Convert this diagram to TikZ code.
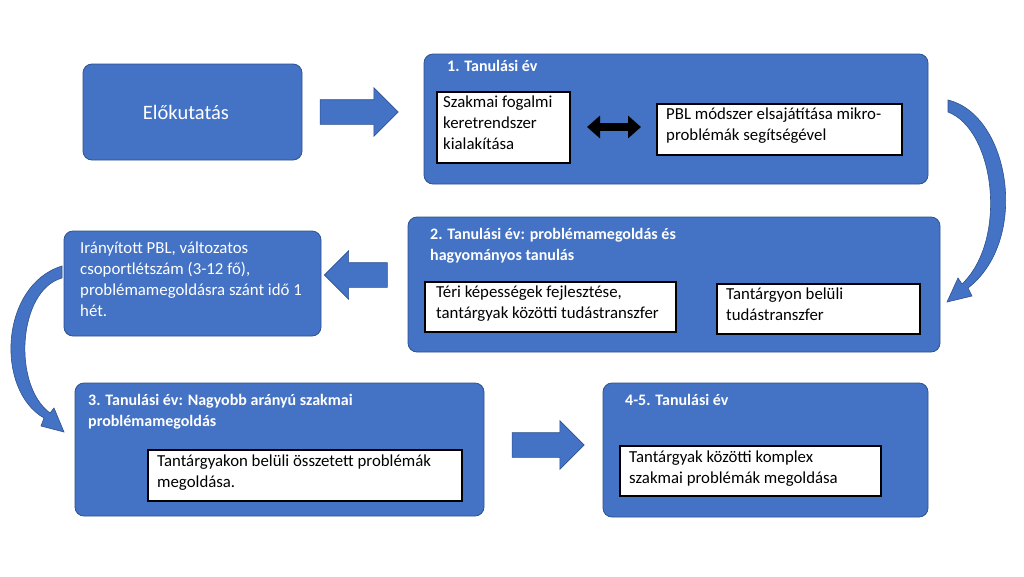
\documentclass[tikz,border=0pt]{standalone}
\usepackage{fontspec}
\setmainfont{Carlito}
\usetikzlibrary{shapes.arrows,arrows.meta}
\definecolor{bfill}{HTML}{4472C4}
\definecolor{bdraw}{HTML}{2F528F}
\begin{document}
\begin{tikzpicture}[x=1pt,y=-1pt,
  blk/.style={draw=bdraw,fill=bfill,rounded corners=9pt,line width=0.8pt},
  wbox/.style={draw=black,fill=white,line width=2.2pt,inner sep=0pt},
  wtxt/.style={anchor=north west,align=left,font=\fontsize{16.8}{21}\selectfont,inner sep=0pt},
  ttl/.style={anchor=north west,align=left,text=white,font=\bfseries\fontsize{16}{21}\selectfont,inner sep=0pt},
  barrow/.style={single arrow,draw=bdraw,fill=bfill,line width=0.6pt,minimum height=#1,single arrow head extend=12pt,inner xsep=0pt,inner ysep=12pt,text height=0pt,text depth=0pt},
  curv/.style={draw=bdraw,fill=bfill}
]
\useasboundingbox (0,0) rectangle (1024,576);
\fill[white] (0,0) rectangle (1024,576);
% boxes
\draw[blk] (83,64) rectangle (302,160);
\node[text=white,font=\fontsize{20.5}{24}\selectfont] (pre) at (186,112) {Előkutatás};
\node[barrow=78pt] (a1) at (353,112) {};
\draw[blk] (424,54) rectangle (928,184);
\node[ttl] (t1) at (447,60) {1. Tanulási év};
\draw[wbox] (437,92) rectangle (570,163);
\node[wtxt] (b11) at (443,96) {Szakmai fogalmi\\keretrendszer\\kialakítása};
\coordinate (dl) at (587,127); \coordinate (dr) at (641,127);
\draw[line width=8pt,{Triangle[length=13pt,width=22pt]}-{Triangle[length=13pt,width=22pt]}] (dl) -- (dr);
\draw[wbox] (657,104) rectangle (902,155);
\node[wtxt] (b12) at (666,108) {PBL módszer elsajátítása mikro-\\problémák segítségével};
% right curved arrow
\draw[curv,line width=0.6pt] (948,100) .. controls (1010,115) and (1030,240) .. (968,288)
  -- (972,296) -- (947,302) -- (958,278) -- (962,284) .. controls (1008,240) and (995,130) .. (948,112) -- cycle;
% box 2
\draw[blk] (408,217) rectangle (940,352);
\node[ttl] (t2) at (430,228) {2. Tanulási év: problémamegoldás és\\hagyományos tanulás};
\draw[wbox] (425,282) rectangle (676,332);
\node[wtxt] (b21) at (436,286) {Téri képességek fejlesztése,\\tantárgyak közötti tudástranszfer};
\draw[wbox] (717,284) rectangle (920,334);
\node[wtxt] (b22) at (726,288) {Tantárgyon belüli\\tudástranszfer};
\node[barrow=63pt,shape border rotate=180] (a2) at (362,275) {};
\draw[blk] (64,231) rectangle (321,336);
\node[wtxt,text=white] (pbl) at (80,242) {Irányított PBL, változatos\\csoportlétszám (3-12 fő),\\problémamegoldásra szánt idő 1\\hét.};
% left curved arrow
\draw[curv,line width=0.6pt] (62,266) .. controls (0,285) and (-5,390) .. (44,418)
  -- (41,426) -- (64,432) -- (54,408) -- (50,413) .. controls (12,385) and (18,290) .. (62,278) -- cycle;
% box 3
\draw[blk] (75,383) rectangle (484,516);
\node[ttl] (t3) at (88,394) {3. Tanulási év: Nagyobb arányú szakmai\\problémamegoldás};
\draw[wbox] (148,450) rectangle (462,501);
\node[wtxt] (b31) at (157,455) {Tantárgyakon belüli összetett problémák\\megoldása.};
\node[barrow=72pt] (a3) at (542,445) {};
\draw[blk] (603,383) rectangle (928,517);
\node[ttl] (t4) at (625,394) {4-5. Tanulási év};
\draw[wbox] (620,446) rectangle (881,496);
\node[wtxt] (b41) at (629,451) {Tantárgyak közötti komplex\\szakmai problémák megoldása};
\end{tikzpicture}
\end{document}
